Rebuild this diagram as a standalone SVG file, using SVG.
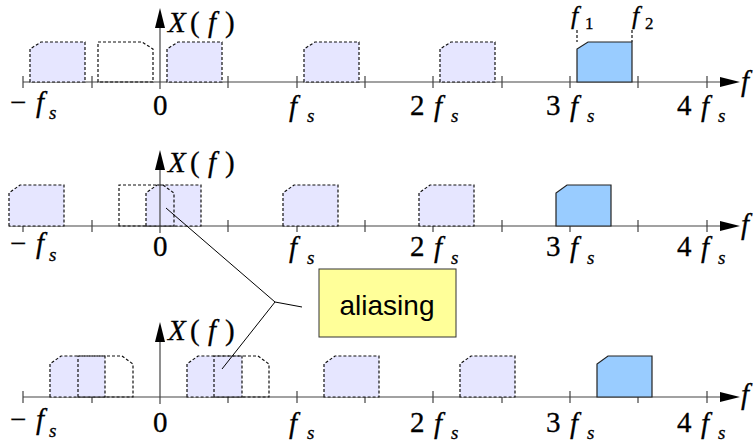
<svg xmlns="http://www.w3.org/2000/svg" width="754" height="443" viewBox="0 0 754 443">
<style>
.ax{stroke:#444;stroke-width:1.2;fill:none}
.lav{fill:#e6e6ff;stroke:#111;stroke-width:1.2;stroke-dasharray:3,2}
.mir{fill:none;stroke:#111;stroke-width:1.2;stroke-dasharray:3,2}
.blue{fill:#99ccff;stroke:#222;stroke-width:1.2}
.ah{fill:#000;stroke:none}
.call{fill:none;stroke:#000;stroke-width:1}
</style>
<rect width="754" height="443" fill="#fff"/>
<g id="panel-top">
  <path class="ax" d="M23,82 H722 M23,76 V88 M92,76 V88 M228,76 V88 M297,76 V88 M365,76 V88 M433,76 V88 M502,76 V88 M570,76 V88 M638,76 V88 M707,76 V88"/>
  <polygon class="ah" points="720,77 740,82 720,87"/>
  <path class="lav" d="M30,82 V49 L41,42 H85 V82 Z"/>
  <path class="lav" d="M167,82 V49 L178,42 H222 V82 Z"/>
  <path class="lav" d="M304,82 V49 L315,42 H359 V82 Z"/>
  <path class="lav" d="M440,82 V49 L451,42 H495 V82 Z"/>
  <path class="blue" d="M577,82 V49 L588,42 H632 V82 Z"/>
  <path class="mir" d="M98,82 V42 H142 L153,49 V82 Z"/>
  <path class="mir" d="M577,30 V42 M632,30 V42"/>
  <path class="ax" d="M160,89 V26"/>
  <polygon class="ah" points="160,8 155,28 165,28"/>
  <g fill="#000" stroke="#000" stroke-width="0.3">
  <text font-family="'Liberation Serif', serif" font-size="29" y="32"><tspan font-style="italic" x="168">X</tspan><tspan x="190">(</tspan><tspan font-style="italic" x="208">f</tspan><tspan x="225">)</tspan></text>
  <text font-family="'Liberation Serif', serif" font-size="29" font-style="italic" x="741" y="91">f</text>
  <text font-family="'Liberation Serif', serif" font-size="26" y="24"><tspan font-style="italic" x="571">f</tspan><tspan font-size="17" x="585" y="29">1</tspan></text>
  <text font-family="'Liberation Serif', serif" font-size="26" y="24"><tspan font-style="italic" x="632">f</tspan><tspan font-size="17" x="645" y="29">2</tspan></text>
  <text font-family="'Liberation Serif', serif" font-size="29" y="112"><tspan x="10">−</tspan><tspan font-style="italic" x="36">f</tspan><tspan font-size="19" font-style="italic" x="49" y="119">s</tspan></text>
  <text font-family="'Liberation Serif', serif" font-size="29" x="153" y="115">0</text>
  <text font-family="'Liberation Serif', serif" font-size="29" y="116"><tspan font-style="italic" x="289">f</tspan><tspan font-size="19" font-style="italic" x="307" y="122">s</tspan></text>
  <text font-family="'Liberation Serif', serif" font-size="29" y="115"><tspan x="410">2</tspan><tspan font-style="italic" x="434" y="116">f</tspan><tspan font-size="19" font-style="italic" x="451" y="122">s</tspan></text>
  <text font-family="'Liberation Serif', serif" font-size="29" y="115"><tspan x="546">3</tspan><tspan font-style="italic" x="570" y="116">f</tspan><tspan font-size="19" font-style="italic" x="587" y="122">s</tspan></text>
  <text font-family="'Liberation Serif', serif" font-size="29" y="115"><tspan x="677">4</tspan><tspan font-style="italic" x="701" y="116">f</tspan><tspan font-size="19" font-style="italic" x="718" y="122">s</tspan></text>
  </g>
</g>
<g id="panel-middle">
  <path class="ax" d="M9,226 H722 M23,220 V232 M92,220 V232 M228,220 V232 M297,220 V232 M365,220 V232 M433,220 V232 M502,220 V232 M570,220 V232 M638,220 V232 M707,220 V232"/>
  <polygon class="ah" points="720,221 740,226 720,231"/>
  <path class="lav" d="M9,226 V193 L20,185 H64 V226 Z"/>
  <path class="lav" d="M146,226 V193 L157,185 H201 V226 Z"/>
  <path class="lav" d="M283,226 V193 L294,185 H338 V226 Z"/>
  <path class="lav" d="M419,226 V193 L430,185 H474 V226 Z"/>
  <path class="blue" d="M556,226 V193 L567,185 H611 V226 Z"/>
  <path class="mir" d="M119,226 V185 H163 L174,193 V226 Z"/>
  <path class="ax" d="M160,233 V168"/>
  <polygon class="ah" points="160,150 155,170 165,170"/>
  <g fill="#000" stroke="#000" stroke-width="0.3">
  <text font-family="'Liberation Serif', serif" font-size="29" y="172"><tspan font-style="italic" x="168">X</tspan><tspan x="190">(</tspan><tspan font-style="italic" x="208">f</tspan><tspan x="225">)</tspan></text>
  <text font-family="'Liberation Serif', serif" font-size="29" font-style="italic" x="741" y="234">f</text>
  <text font-family="'Liberation Serif', serif" font-size="29" y="253"><tspan x="10">−</tspan><tspan font-style="italic" x="36">f</tspan><tspan font-size="19" font-style="italic" x="49" y="261">s</tspan></text>
  <text font-family="'Liberation Serif', serif" font-size="29" x="153" y="256">0</text>
  <text font-family="'Liberation Serif', serif" font-size="29" y="257"><tspan font-style="italic" x="289">f</tspan><tspan font-size="19" font-style="italic" x="307" y="264">s</tspan></text>
  <text font-family="'Liberation Serif', serif" font-size="29" y="256"><tspan x="410">2</tspan><tspan font-style="italic" x="434" y="257">f</tspan><tspan font-size="19" font-style="italic" x="451" y="264">s</tspan></text>
  <text font-family="'Liberation Serif', serif" font-size="29" y="256"><tspan x="546">3</tspan><tspan font-style="italic" x="570" y="257">f</tspan><tspan font-size="19" font-style="italic" x="587" y="264">s</tspan></text>
  <text font-family="'Liberation Serif', serif" font-size="29" y="256"><tspan x="677">4</tspan><tspan font-style="italic" x="701" y="257">f</tspan><tspan font-size="19" font-style="italic" x="718" y="264">s</tspan></text>
  </g>
</g>
<g id="panel-bottom">
  <path class="ax" d="M23,397 H722 M23,391 V403 M92,391 V403 M228,391 V403 M297,391 V403 M365,391 V403 M433,391 V403 M502,391 V403 M570,391 V403 M638,391 V403 M707,391 V403"/>
  <polygon class="ah" points="720,392 740,397 720,402"/>
  <path class="lav" d="M50,397 V364 L61,356 H105 V397 Z"/>
  <path class="lav" d="M187,397 V364 L198,356 H242 V397 Z"/>
  <path class="lav" d="M324,397 V364 L335,356 H379 V397 Z"/>
  <path class="lav" d="M460,397 V364 L471,356 H515 V397 Z"/>
  <path class="blue" d="M597,397 V364 L608,356 H652 V397 Z"/>
  <path class="mir" d="M78,397 V356 H122 L133,364 V397 Z"/>
  <path class="mir" d="M214,397 V356 H258 L269,364 V397 Z"/>
  <path class="ax" d="M160,404 V340"/>
  <polygon class="ah" points="160,322 155,342 165,342"/>
  <g fill="#000" stroke="#000" stroke-width="0.3">
  <text font-family="'Liberation Serif', serif" font-size="29" y="340"><tspan font-style="italic" x="168">X</tspan><tspan x="190">(</tspan><tspan font-style="italic" x="208">f</tspan><tspan x="225">)</tspan></text>
  <text font-family="'Liberation Serif', serif" font-size="29" font-style="italic" x="741" y="404">f</text>
  <text font-family="'Liberation Serif', serif" font-size="29" y="429"><tspan x="10">−</tspan><tspan font-style="italic" x="36">f</tspan><tspan font-size="19" font-style="italic" x="49" y="437">s</tspan></text>
  <text font-family="'Liberation Serif', serif" font-size="29" x="153" y="432">0</text>
  <text font-family="'Liberation Serif', serif" font-size="29" y="433"><tspan font-style="italic" x="289">f</tspan><tspan font-size="19" font-style="italic" x="307" y="439">s</tspan></text>
  <text font-family="'Liberation Serif', serif" font-size="29" y="432"><tspan x="410">2</tspan><tspan font-style="italic" x="434" y="433">f</tspan><tspan font-size="19" font-style="italic" x="451" y="439">s</tspan></text>
  <text font-family="'Liberation Serif', serif" font-size="29" y="432"><tspan x="546">3</tspan><tspan font-style="italic" x="570" y="433">f</tspan><tspan font-size="19" font-style="italic" x="587" y="439">s</tspan></text>
  <text font-family="'Liberation Serif', serif" font-size="29" y="432"><tspan x="677">4</tspan><tspan font-style="italic" x="701" y="433">f</tspan><tspan font-size="19" font-style="italic" x="718" y="439">s</tspan></text>
  </g>
</g>
<g id="connectors">
  <path class="call" d="M166,208 L275,302 L222,369 M275,302 L302,307"/>
</g>
<g id="aliasing-callout">
  <rect x="319" y="269" width="137" height="68" fill="#ffff99" stroke="#333" stroke-width="1"/>
  <text x="387" y="315" text-anchor="middle" font-family="'Liberation Sans', Arial, sans-serif" font-size="28" fill="#000">aliasing</text>
</g>
</svg>
